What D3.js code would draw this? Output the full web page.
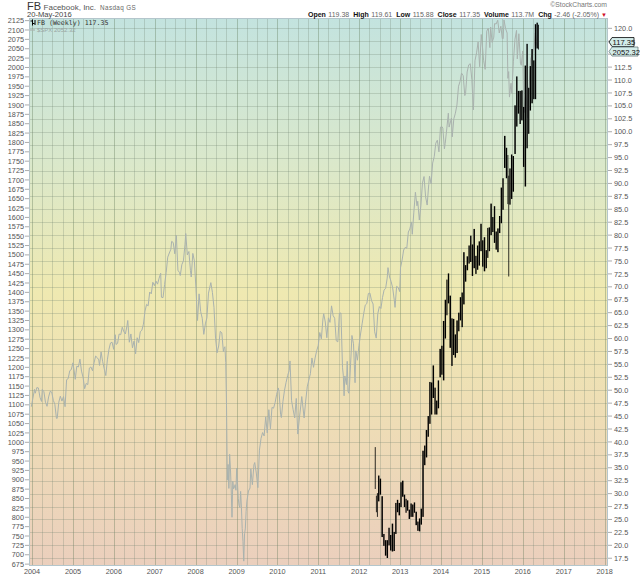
<!DOCTYPE html>
<html>
<head>
<meta charset="utf-8">
<script src="https://cdn.jsdelivr.net/npm/d3@7"></script>
<style>
  body { margin: 0; background: #fff; }
  text { font-family: "Liberation Sans", Arial, sans-serif; }
</style>
</head>
<body>
<div id="wrapper"></div>
<script>

// 1. Data

// $SPX weekly closes (overlay, left axis)
const spxDates = [
  "2003-12-26","2004-01-23","2004-01-30","2004-02-13","2004-02-27","2004-03-12","2004-03-26","2004-04-02",
  "2004-04-16","2004-04-30","2004-05-14","2004-05-28","2004-06-11","2004-06-25","2004-07-09","2004-07-23",
  "2004-08-06","2004-08-13","2004-08-27","2004-09-10","2004-09-24","2004-10-08","2004-10-22","2004-11-05",
  "2004-11-19","2004-12-03","2004-12-17","2004-12-31","2005-01-14","2005-01-21","2005-02-04","2005-02-18",
  "2005-03-04","2005-03-18","2005-04-01","2005-04-15","2005-04-29","2005-05-13","2005-05-27","2005-06-10",
  "2005-06-24","2005-07-08","2005-07-22","2005-08-05","2005-08-19","2005-08-26","2005-09-09","2005-09-23",
  "2005-10-07","2005-10-21","2005-11-04","2005-11-18","2005-12-02","2005-12-16","2005-12-30","2006-01-13",
  "2006-01-20","2006-02-03","2006-02-17","2006-03-03","2006-03-17","2006-03-31","2006-04-14","2006-04-28",
  "2006-05-05","2006-05-19","2006-06-02","2006-06-16","2006-06-30","2006-07-14","2006-07-28","2006-08-11",
  "2006-08-25","2006-09-08","2006-09-22","2006-10-06","2006-10-20","2006-11-03","2006-11-17","2006-12-01",
  "2006-12-15","2006-12-29","2007-01-12","2007-01-26","2007-02-09","2007-02-23","2007-03-02","2007-03-16",
  "2007-03-30","2007-04-13","2007-04-27","2007-05-11","2007-05-25","2007-06-01","2007-06-15","2007-06-29",
  "2007-07-13","2007-07-27","2007-08-10","2007-08-17","2007-08-31","2007-09-14","2007-09-28","2007-10-05",
  "2007-10-19","2007-11-02","2007-11-16","2007-11-23","2007-12-07","2007-12-21","2008-01-04","2008-01-18",
  "2008-02-01","2008-02-15","2008-02-29","2008-03-14","2008-03-28","2008-04-11","2008-04-25","2008-05-16",
  "2008-05-30","2008-06-13","2008-06-27","2008-07-11","2008-07-25","2008-08-08","2008-08-22","2008-09-05",
  "2008-09-12","2008-09-19","2008-09-26","2008-10-03","2008-10-10","2008-10-17","2008-10-24","2008-10-31",
  "2008-11-07","2008-11-14","2008-11-21","2008-11-28","2008-12-05","2008-12-12","2008-12-19","2008-12-26",
  "2009-01-02","2009-01-09","2009-01-16","2009-01-23","2009-01-30","2009-02-06","2009-02-13","2009-02-20",
  "2009-02-27","2009-03-06","2009-03-13","2009-03-20","2009-03-27","2009-04-03","2009-04-17","2009-05-01",
  "2009-05-08","2009-05-22","2009-06-05","2009-06-12","2009-06-26","2009-07-10","2009-07-24","2009-08-07",
  "2009-08-21","2009-09-04","2009-09-18","2009-10-02","2009-10-16","2009-10-30","2009-11-13","2009-11-27",
  "2009-12-11","2009-12-24","2010-01-08","2010-01-15","2010-01-29","2010-02-05","2010-02-19","2010-03-05",
  "2010-03-19","2010-04-02","2010-04-16","2010-04-23","2010-05-07","2010-05-21","2010-06-04","2010-06-18",
  "2010-07-02","2010-07-16","2010-07-30","2010-08-06","2010-08-27","2010-09-10","2010-09-24","2010-10-08",
  "2010-10-22","2010-11-05","2010-11-19","2010-12-03","2010-12-17","2010-12-31","2011-01-14","2011-01-28",
  "2011-02-11","2011-02-18","2011-03-04","2011-03-18","2011-04-01","2011-04-15","2011-04-29","2011-05-13",
  "2011-05-27","2011-06-10","2011-06-24","2011-07-08","2011-07-22","2011-08-05","2011-08-12","2011-08-19",
  "2011-08-26","2011-09-09","2011-09-16","2011-09-23","2011-09-30","2011-10-07","2011-10-21","2011-10-28",
  "2011-11-11","2011-11-25","2011-12-02","2011-12-16","2011-12-30","2012-01-13","2012-01-27","2012-02-10",
  "2012-02-24","2012-03-09","2012-03-23","2012-04-06","2012-04-20","2012-05-04","2012-05-18","2012-06-01",
  "2012-06-15","2012-06-29","2012-07-13","2012-07-27","2012-08-10","2012-08-24","2012-09-07","2012-09-14",
  "2012-09-28","2012-10-12","2012-10-26","2012-11-09","2012-11-16","2012-11-30","2012-12-14","2012-12-28",
  "2013-01-04","2013-01-18","2013-02-01","2013-02-15","2013-03-01","2013-03-15","2013-03-28","2013-04-12",
  "2013-04-19","2013-05-03","2013-05-17","2013-05-31","2013-06-07","2013-06-21","2013-07-05","2013-07-19",
  "2013-08-02","2013-08-16","2013-08-30","2013-09-13","2013-09-20","2013-10-04","2013-10-18","2013-11-01",
  "2013-11-15","2013-11-29","2013-12-13","2013-12-27","2014-01-10","2014-01-17","2014-01-31","2014-02-07",
  "2014-02-21","2014-03-07","2014-03-14","2014-03-28","2014-04-04","2014-04-11","2014-04-25","2014-05-09",
  "2014-05-23","2014-06-06","2014-06-20","2014-07-03","2014-07-18","2014-08-01","2014-08-08","2014-08-22",
  "2014-09-05","2014-09-19","2014-10-03","2014-10-17","2014-10-31","2014-11-14","2014-11-28","2014-12-12",
  "2014-12-26","2015-01-09","2015-01-16","2015-01-30","2015-02-13","2015-02-27","2015-03-13","2015-03-20",
  "2015-04-02","2015-04-17","2015-04-24","2015-05-08","2015-05-22","2015-06-05","2015-06-19","2015-07-02",
  "2015-07-10","2015-07-17","2015-07-31","2015-08-14","2015-08-21","2015-08-28","2015-09-04","2015-09-18",
  "2015-09-25","2015-10-09","2015-10-23","2015-11-06","2015-11-13","2015-11-27","2015-12-11","2015-12-18",
  "2015-12-31","2016-01-08","2016-01-15","2016-01-29","2016-02-12","2016-02-26","2016-03-11","2016-03-24",
  "2016-04-08","2016-04-22","2016-05-06","2016-05-20",
];
const spxValues = [
  1095,1141,1131,1146,1145,1120,1109,1141, 1135,1107,1096,1121,1136,1134,1112,1101,
  1064,1064,1107,1123,1110,1122,1095,1167, 1170,1191,1194,1212,1185,1168,1203,1201,
  1222,1190,1173,1143,1157,1154,1198,1201, 1191,1212,1230,1226,1220,1205,1241,1215,
  1196,1178,1220,1248,1265,1267,1248,1287, 1261,1264,1289,1287,1307,1295,1289,1311,
  1325,1267,1289,1252,1270,1236,1279,1266, 1295,1299,1315,1350,1368,1364,1401,1396,
  1427,1418,1430,1422,1438,1451,1387,1386, 1421,1453,1494,1505,1515,1536,1533,1503,
  1552,1459,1453,1445,1474,1484,1527,1557, 1500,1509,1458,1441,1504,1484,1411,1325,
  1396,1349,1331,1288,1316,1332,1398,1426, 1400,1360,1278,1239,1257,1296,1292,1242,
  1252,1255,1213,1099,899,941,877,968,     930,873,800,896,876,879,887,872,
  931,890,850,832,826,869,827,770,         735,683,756,769,816,843,870,878,
  929,887,940,946,918,879,979,1010,        1026,1017,1068,1025,1087,1036,1093,1091,
  1106,1127,1145,1136,1074,1066,1109,1139, 1160,1178,1192,1217,1111,1087,1065,1117,
  1022,1065,1102,1122,1065,1110,1148,1166, 1183,1225,1200,1225,1244,1258,1293,1276,
  1329,1343,1321,1279,1332,1320,1364,1338, 1331,1271,1268,1344,1345,1199,1179,1124,
  1177,1154,1216,1136,1131,1155,1238,1285, 1263,1159,1244,1219,1258,1289,1316,1343,
  1366,1370,1397,1398,1378,1369,1295,1278, 1343,1362,1357,1386,1406,1411,1438,1466,
  1441,1429,1412,1380,1360,1416,1413,1402, 1466,1486,1513,1520,1518,1561,1569,1588,
  1555,1614,1667,1631,1643,1593,1632,1692, 1709,1655,1633,1688,1710,1690,1745,1762,
  1798,1806,1775,1841,1842,1838,1783,1797, 1836,1878,1841,1857,1865,1815,1863,1878,
  1900,1950,1963,1985,1978,1925,1931,1988, 2007,2010,1968,1887,2018,2039,2068,2002,
  2088,2045,2019,1995,2097,2105,2053,2108, 2067,2081,2117,2116,2126,2092,2110,2077,
  2077,2127,2104,2092,1971,1989,1921,1958, 1931,2015,2075,2099,2023,2090,2012,2006,
  2044,1922,1880,1940,1865,1948,2022,2035, 2048,2092,2057,2052,
];

// FB price bars: period start, low, high (weekly bars merged to about half months)
const fbStarts = [
  "2012-05-18","2012-05-28","2012-06-06","2012-06-16","2012-07-01","2012-07-16","2012-08-01","2012-08-16",
  "2012-09-01","2012-09-16","2012-10-01","2012-10-16","2012-11-01","2012-11-16","2012-12-01","2012-12-16",
  "2013-01-01","2013-01-16","2013-02-01","2013-02-16","2013-03-01","2013-03-16","2013-04-01","2013-04-16",
  "2013-05-01","2013-05-16","2013-06-01","2013-06-16","2013-07-01","2013-07-16","2013-08-01","2013-08-16",
  "2013-09-01","2013-09-16","2013-10-01","2013-10-16","2013-11-01","2013-11-16","2013-12-01","2013-12-16",
  "2014-01-01","2014-01-16","2014-02-01","2014-02-16","2014-03-01","2014-03-16","2014-04-01","2014-04-16",
  "2014-05-01","2014-05-16","2014-06-01","2014-06-16","2014-07-01","2014-07-16","2014-08-01","2014-08-16",
  "2014-09-01","2014-09-16","2014-10-01","2014-10-16","2014-11-01","2014-11-16","2014-12-01","2014-12-16",
  "2015-01-01","2015-01-16","2015-02-01","2015-02-16","2015-03-01","2015-03-16","2015-04-01","2015-04-16",
  "2015-05-01","2015-05-16","2015-06-01","2015-06-16","2015-07-01","2015-07-16","2015-08-01","2015-08-16",
  "2015-08-24","2015-09-01","2015-09-16","2015-10-01","2015-10-16","2015-11-01","2015-11-16","2015-12-01",
  "2015-12-16","2016-01-01","2016-01-16","2016-02-01","2016-02-16","2016-03-01","2016-03-16","2016-04-01",
  "2016-04-16","2016-05-01","2016-05-16",
];
const fbEnd = "2016-05-21";
const fbLow = [
  30.9,26.4,25.5,28.5,29.8,21.6,19.9,18.0,  17.55,20.0,19.0,18.8,18.9,22.2,26.4,25.8,
  27.4,29.4,27.4,26.3,26.7,25.1,25.5,25.5,  26.3,23.9,22.8,22.7,24.0,25.5,35.5,37.0,
  41.0,43.5,45.3,48.5,45.3,45.3,46.5,52.5,  53.0,51.9,60.0,64.5,66.8,58.2,54.7,56.8,
  56.3,57.2,61.4,63.5,62.2,66.6,71.0,73.2,  74.5,74.8,72.1,73.6,72.5,73.3,74.1,76.9,
  73.9,73.0,73.6,75.6,76.9,80.0,80.6,78.5,  77.2,76.7,80.4,82.3,84.9,93.0,91.0,86.0,
  72.0,85.9,87.0,88.4,95.7,101.0,103.5,101.5, 102.2,93.2,89.4,96.8,99.6,104.1,105.5,106.3,
  106.3,116.1,115.9,
];
const fbHigh = [
  39.0,29.6,30.1,33.5,32.9,29.5,22.2,21.0,  21.0,23.4,22.0,24.2,22.6,28.2,28.8,28.2,
  32.2,32.5,29.8,29.0,28.7,26.9,28.1,27.9,  28.3,26.5,24.6,25.2,27.1,38.3,39.3,42.3,
  45.0,51.6,51.5,54.8,50.5,48.0,51.9,58.0,  58.6,63.4,67.5,71.4,72.6,68.3,63.9,63.8,
  60.8,63.5,65.0,68.0,68.9,76.7,74.2,75.9,  78.0,79.9,78.2,81.2,76.0,78.0,78.8,82.2,
  79.0,79.6,77.1,81.4,81.5,86.1,83.5,85.6,  80.7,81.3,83.7,89.2,91.0,99.2,96.9,95.5,
  91.5,92.9,95.6,95.3,105.1,110.7,107.9,107.9, 108.0,104.8,112.8,117.0,108.5,112.7,116.0,113.8,
  120.8,121.1,120.7,
];

const fbLast = 117.35;
const spxLast = 2052.32;

const leftTicks = d3.range(675, 2126, 25);
const rightTicks = d3.range(17.5, 120.01, 2.5);
const yearTicks = d3.range(2004, 2019);

const headerStats = [
  ["Open", "119.38"], ["High", "119.61"], ["Low", "115.88"],
  ["Close", "117.35"], ["Volume", "113.7M"], ["Chg", "-2.46 (-2.05%)"],
];

// 2. Dimensions

const width = 640;
const height = 576;
const plot = { left: 29, right: 608, top: 18, bottom: 566 };

const parseDate = d3.timeParse("%Y-%m-%d");

// 3. Scales

const xScale = d3.scaleTime()
  .domain([parseDate("2003-12-05"), parseDate("2018-01-31")])
  .range([plot.left, plot.right]);
const yLeft = d3.scaleLinear()
  .domain([670, 2132])
  .range([plot.bottom, plot.top]);
const yRight = d3.scaleLinear()
  .domain([16.0, 122.0])
  .range([plot.bottom, plot.top]);

// 4. Canvas

const svg = d3.select("#wrapper")
  .append("svg")
    .attr("width", width)
    .attr("height", height);

const defs = svg.append("defs");
const grad = defs.append("linearGradient")
    .attr("id", "bg")
    .attr("x1", 0).attr("y1", 0).attr("x2", 0).attr("y2", 1);
[["0%", "#c3e3df"], ["25%", "#d9e8cc"], ["50%", "#efe9b1"], ["75%", "#eedcb6"], ["100%", "#ebcfbd"]]
  .forEach(([o, c]) => grad.append("stop").attr("offset", o).attr("stop-color", c));

defs.append("clipPath").attr("id", "clip")
  .append("rect")
    .attr("x", plot.left).attr("y", plot.top)
    .attr("width", plot.right - plot.left).attr("height", plot.bottom - plot.top);

svg.append("rect")
    .attr("x", plot.left).attr("y", plot.top)
    .attr("width", plot.right - plot.left).attr("height", plot.bottom - plot.top)
    .attr("fill", "url(#bg)");

// grid
const grid = svg.append("g").attr("clip-path", "url(#clip)");
const quarters = d3.timeMonth.every(3).range(parseDate("2004-01-01"), parseDate("2018-02-01"));
grid.selectAll(".vgrid")
  .data(quarters)
  .join("line")
    .attr("x1", d => Math.round(xScale(d)) + 0.5)
    .attr("x2", d => Math.round(xScale(d)) + 0.5)
    .attr("y1", plot.top).attr("y2", plot.bottom)
    .attr("stroke", d => d.getMonth() === 0 ? "rgba(95,120,85,0.36)" : "rgba(110,130,110,0.27)")
    .attr("stroke-width", 1);
grid.selectAll(".hgrid")
  .data(rightTicks)
  .join("line")
    .attr("x1", plot.left).attr("x2", plot.right)
    .attr("y1", d => Math.round(yRight(d)) + 0.5)
    .attr("y2", d => Math.round(yRight(d)) + 0.5)
    .attr("stroke", "rgba(110,130,110,0.27)")
    .attr("stroke-width", 1);

svg.append("rect")
    .attr("x", plot.left + 0.5).attr("y", plot.top + 0.5)
    .attr("width", plot.right - plot.left - 1).attr("height", plot.bottom - plot.top - 1)
    .attr("fill", "none")
    .attr("stroke", "#b4c6cc");

// 5. Draw data

const spx = spxDates.map((d, i) => ({ date: parseDate(d), value: spxValues[i] }));
const spxLine = d3.line()
  .x(d => xScale(d.date))
  .y(d => yLeft(d.value));
svg.append("path")
    .attr("clip-path", "url(#clip)")
    .attr("d", spxLine(spx))
    .attr("fill", "none")
    .attr("stroke", "#a9b2ae")
    .attr("stroke-width", 1)
    .attr("stroke-linejoin", "round");

const fb = fbStarts.map((d, i) => ({
  start: parseDate(d),
  end: parseDate(i < fbStarts.length - 1 ? fbStarts[i + 1] : fbEnd),
  low: fbLow[i],
  high: fbHigh[i],
}));
svg.append("g")
    .attr("clip-path", "url(#clip)")
  .selectAll("rect")
  .data(fb)
  .join("rect")
    .attr("x", d => xScale(d.start) + 0.15)
    .attr("width", d => Math.max(0.8, xScale(d.end) - xScale(d.start) - 0.3))
    .attr("y", d => yRight(d.high))
    .attr("height", d => yRight(d.low) - yRight(d.high))
    .attr("fill", "#000");

// 6. Axes

const axisText = "#555";
const fbBoxY = yRight(fbLast);
const spxBoxY = Math.max(yLeft(spxLast), fbBoxY + 9.5);
// labels hidden behind the last value boxes
const hidden = d => Math.abs(yRight(d) - fbBoxY) < 6 || Math.abs(yRight(d) - spxBoxY) < 6;

const leftAxis = svg.append("g");
leftAxis.selectAll("text")
  .data(leftTicks)
  .join("text")
    .attr("x", 24)
    .attr("y", d => yLeft(d) + 2.6)
    .attr("text-anchor", "end")
    .attr("font-size", 7.3)
    .attr("fill", axisText)
    .text(d => d);
leftAxis.selectAll("line")
  .data(leftTicks)
  .join("line")
    .attr("x1", 25).attr("x2", plot.left)
    .attr("y1", d => yLeft(d)).attr("y2", d => yLeft(d))
    .attr("stroke", "#888").attr("stroke-width", 0.7);

const rightAxis = svg.append("g");
rightAxis.selectAll("text")
  .data(rightTicks.filter(d => !hidden(d)))
  .join("text")
    .attr("x", 614)
    .attr("y", d => yRight(d) + 2.6)
    .attr("font-size", 7.3)
    .attr("fill", axisText)
    .text(d => d3.format(".1f")(d));
rightAxis.selectAll("line")
  .data(rightTicks)
  .join("line")
    .attr("x1", plot.right).attr("x2", plot.right + 4)
    .attr("y1", d => yRight(d)).attr("y2", d => yRight(d))
    .attr("stroke", "#888").attr("stroke-width", 0.7);

const bottomAxis = svg.append("g");
bottomAxis.selectAll("text")
  .data(yearTicks)
  .join("text")
    .attr("x", d => xScale(new Date(d, 0, 1)))
    .attr("y", 574)
    .attr("text-anchor", "middle")
    .attr("font-size", 7.3)
    .attr("fill", axisText)
    .text(d => d);

// last value boxes
const boxPath = (x, y, w, h) =>
  `M${x},${y} L${x + 3},${y - h / 2} L${x + w},${y - h / 2} L${x + w},${y + h / 2} L${x + 3},${y + h / 2} Z`;
[[fbBoxY, fbLast.toFixed(2), "#000", 25], [spxBoxY, spxLast.toFixed(2), "#6b7d80", 29]]
  .forEach(([y, label, stroke, w]) => {
    svg.append("path")
        .attr("d", boxPath(609, y, w, 9))
        .attr("fill", "#d3ecea")
        .attr("stroke", stroke)
        .attr("stroke-width", 0.8);
    svg.append("text")
        .attr("x", 612.5)
        .attr("y", y + 3)
        .attr("font-size", 7.6)
        .attr("fill", "#111")
        .text(label);
  });

// 7. Header and legend

const header = svg.append("g").attr("fill", "#333");
const title = header.append("text").attr("x", 27).attr("y", 9.5);
title.append("tspan").attr("font-size", 11).text("FB");
title.append("tspan").attr("font-size", 8).attr("dx", 2.5).attr("fill", "#555").text("Facebook, Inc.");
title.append("tspan").attr("font-size", 6.3).attr("dx", 4).attr("fill", "#666")
  .attr("letter-spacing", 0.4).text("Nasdaq GS");

header.append("text")
    .attr("x", 27).attr("y", 17)
    .attr("font-size", 7.6)
    .attr("fill", "#444")
    .text("20-May-2016");

header.append("text")
    .attr("x", 607).attr("y", 7)
    .attr("text-anchor", "end")
    .attr("font-size", 6.8)
    .attr("fill", "#777")
    .text("©StockCharts.com");

const stats = header.append("text")
    .attr("x", 599).attr("y", 17)
    .attr("text-anchor", "end")
    .attr("font-size", 7.0);
headerStats.forEach(([label, value], i) => {
  stats.append("tspan").attr("font-weight", "bold").attr("fill", "#111")
    .attr("dx", i === 0 ? 0 : 4).text(label);
  stats.append("tspan").attr("fill", "#666").attr("dx", 2.5).text(value);
});
header.append("text")
    .attr("x", 607).attr("y", 16.5)
    .attr("text-anchor", "end")
    .attr("font-size", 6)
    .attr("fill", "#d0102a")
    .text("▼");

// legend
const legend = svg.append("g");
legend.append("path")
    .attr("d", "M32.5,19.5 V25.5 M30.5,21 H32.5 M32.5,23.5 H34.5 M35,20 V25")
    .attr("stroke", "#000").attr("stroke-width", 1).attr("fill", "none");
legend.append("text")
    .attr("x", 37).attr("y", 25)
    .style("font-family", "'DejaVu Sans Mono', monospace")
    .attr("font-size", 6.6)
    .attr("fill", "#333")
    .text("FB (Weekly) 117.35");
legend.append("line")
    .attr("x1", 30).attr("x2", 35).attr("y1", 30).attr("y2", 30)
    .attr("stroke", "#a9b2ae").attr("stroke-width", 1.2);
legend.append("text")
    .attr("x", 37).attr("y", 32)
    .attr("font-size", 6)
    .attr("fill", "#9aa4a2")
    .text("$SPX 2052.32");

</script>
</body>
</html>
